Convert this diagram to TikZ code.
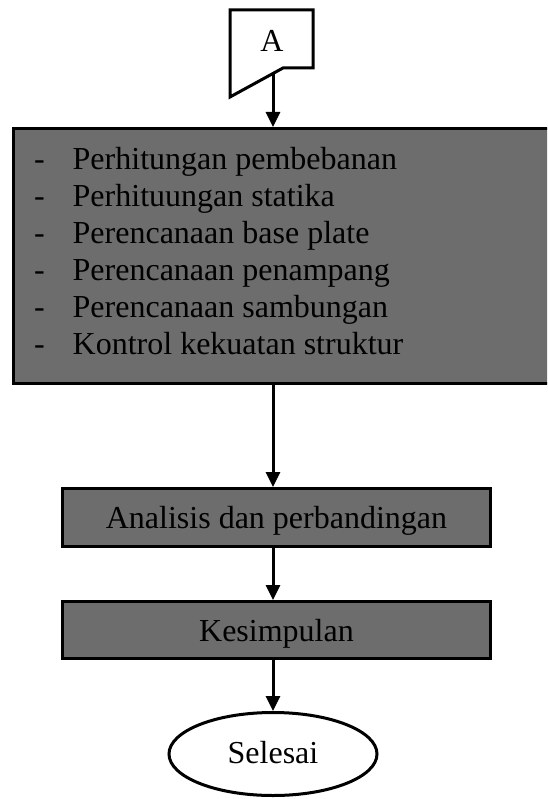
\documentclass[tikz,border=0pt]{standalone}
\usepackage{fontspec}
\setmainfont{Liberation Serif}
\usetikzlibrary{shapes.geometric,arrows.meta}
\definecolor{boxgray}{RGB}{109,109,109}
\begin{document}
\begin{tikzpicture}[x=1pt,y=-1pt,
  bigfont/.style={font=\fontsize{32}{38}\selectfont},
  proc/.style={draw=black,line width=3pt,fill=boxgray,inner sep=0pt,bigfont,text height=22pt,text depth=0pt},
  txt/.style={inner sep=0pt,anchor=base west,bigfont},
  arr/.style={line width=3pt,-{Triangle[length=15pt,width=14pt]}},
  offpage/.style={draw=black,line width=3pt,line join=miter},
  term/.style={draw=black,ellipse,line width=3pt,inner sep=0pt,bigfont,text height=18pt,text depth=0pt}
]
\useasboundingbox (0,0) rectangle (547,799);
\clip (0,0) rectangle (547,799);

% off-page connector
\draw[offpage] (230,10) -- (313,10) -- (313,68) -- (283,68) -- (230,97) -- cycle;
\node[inner sep=0pt,anchor=base,bigfont] (A) at (272,52) {A};
\coordinate (Aout) at (273,73.5);

% main process box
\node[proc,minimum width=546.5pt,minimum height=255pt] (big) at (286.75,256) {};
\node[txt] (d1) at (34,170) {-};
\node[txt] (l1) at (72.5,170) {Perhitungan pembebanan};
\node[txt] (d2) at (34,206.8) {-};
\node[txt] (l2) at (72.5,206.8) {Perhituungan statika};
\node[txt] (d3) at (34,243.6) {-};
\node[txt] (l3) at (72.5,243.6) {Perencanaan base plate};
\node[txt] (d4) at (34,280.4) {-};
\node[txt] (l4) at (72.5,280.4) {Perencanaan penampang};
\node[txt] (d5) at (34,317.2) {-};
\node[txt] (l5) at (72.5,317.2) {Perencanaan sambungan};
\node[txt] (d6) at (34,354) {-};
\node[txt] (l6) at (72.5,354) {Kontrol kekuatan struktur};

\node[proc,minimum width=428pt,minimum height=58pt] (ana) at (276.5,517.5) {Analisis dan perbandingan};
\node[proc,minimum width=428pt,minimum height=57pt] (kes) at (276.5,630) {Kesimpulan};
\node[term,minimum width=208pt,minimum height=83pt] (sel) at (273,754) {Selesai};

\draw[arr] (Aout) -- (Aout |- big.north);
\draw[arr] (big.south -| Aout) -- (ana.north -| Aout);
\draw[arr] (ana.south -| Aout) -- (kes.north -| Aout);
\draw[arr] (kes.south -| Aout) -- (sel.north);
\end{tikzpicture}
\end{document}
